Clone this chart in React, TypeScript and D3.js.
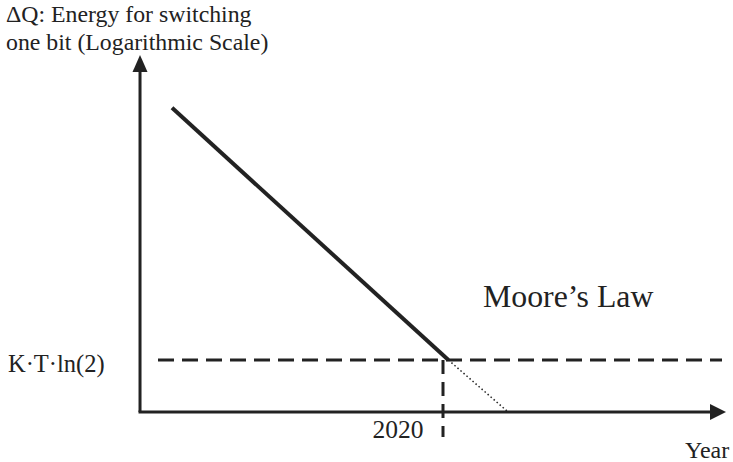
import React from "react";
import * as d3 from "d3";

// Data (years on x, energy per bit switch in joules on a log y axis)
const mooreYears = [1970, 2021];
const mooreEnergy = [1.4e-11, 2.87e-21];
const extrapYears = [2021, 2032];
const extrapEnergy = [2.87e-21, 2.87e-23];
const landauerEnergy = 2.87e-21; // K·T·ln(2)
const markYear = 2020;

const titleLines = ["ΔQ: Energy for switching", "one bit (Logarithmic Scale)"];
const yLabel = "K·T·ln(2)";
const xLabel = "Year";
const seriesLabel = "Moore’s Law";

const W = 733;
const H = 462;
const ink = "#222";
const font = "'Liberation Serif', 'Times New Roman', serif";

export default function App() {
  const x = d3.scaleLinear().domain([1970, 2020]).range([172, 443]);
  const y = d3.scaleLog().domain([2.87e-23, 1.5e-9]).range([412, 55]);

  const axisX0 = x(1964.1);
  const axisY0 = y(2.87e-23);
  const xTip = 726;
  const yTip = 55;

  const line = d3
    .line<[number, number]>()
    .x((d) => x(d[0]))
    .y((d) => y(d[1]));

  const moore = mooreYears.map((yr, i) => [yr, mooreEnergy[i]] as [number, number]);
  const extrap = extrapYears.map((yr, i) => [yr, extrapEnergy[i]] as [number, number]);
  const ly = y(landauerEnergy);
  const mx = x(markYear);

  return (
    <svg
      width={W}
      height={H}
      style={{ position: "absolute", left: 0, top: 0, background: "#fff" }}
      fontFamily={font}
      fill={ink}
    >
      <rect width={W} height={H} fill="#fff" />
      {/* axes */}
      <line x1={axisX0} y1={axisY0} x2={axisX0} y2={yTip + 16} stroke={ink} strokeWidth={3} />
      <polygon points={`${axisX0},${yTip} ${axisX0 - 7.5},${yTip + 17} ${axisX0 + 7.5},${yTip + 17}`} fill={ink} />
      <line x1={axisX0 - 1.5} y1={axisY0} x2={xTip - 15} y2={axisY0} stroke={ink} strokeWidth={3} />
      <polygon points={`${xTip},${axisY0} ${xTip - 16},${axisY0 - 8} ${xTip - 16},${axisY0 + 8}`} fill={ink} />

      {/* Landauer limit dashed line */}
      <line x1={158} y1={ly} x2={722} y2={ly} stroke={ink} strokeWidth={3} strokeDasharray="16 8" />
      {/* 2020 marker */}
      <line x1={mx} y1={ly} x2={mx} y2={437} stroke={ink} strokeWidth={3} strokeDasharray="14 8" />

      {/* Moore's law */}
      <path d={line(moore) || ""} fill="none" stroke={ink} strokeWidth={4} />
      <path d={line(extrap) || ""} fill="none" stroke={ink} strokeWidth={1.5} strokeDasharray="1.5 2.5" />

      {/* text */}
      <text x={6} y={22} fontSize={23.8}>{titleLines[0]}</text>
      <text x={6} y={50} fontSize={23.8}>{titleLines[1]}</text>
      <text x={8} y={372} fontSize={24.5}>{yLabel}</text>
      <text x={398} y={438} fontSize={25.5} textAnchor="middle">{markYear}</text>
      <text x={685} y={458} fontSize={24}>{xLabel}</text>
      <text x={483} y={307} fontSize={31.8}>{seriesLabel}</text>
    </svg>
  );
}
